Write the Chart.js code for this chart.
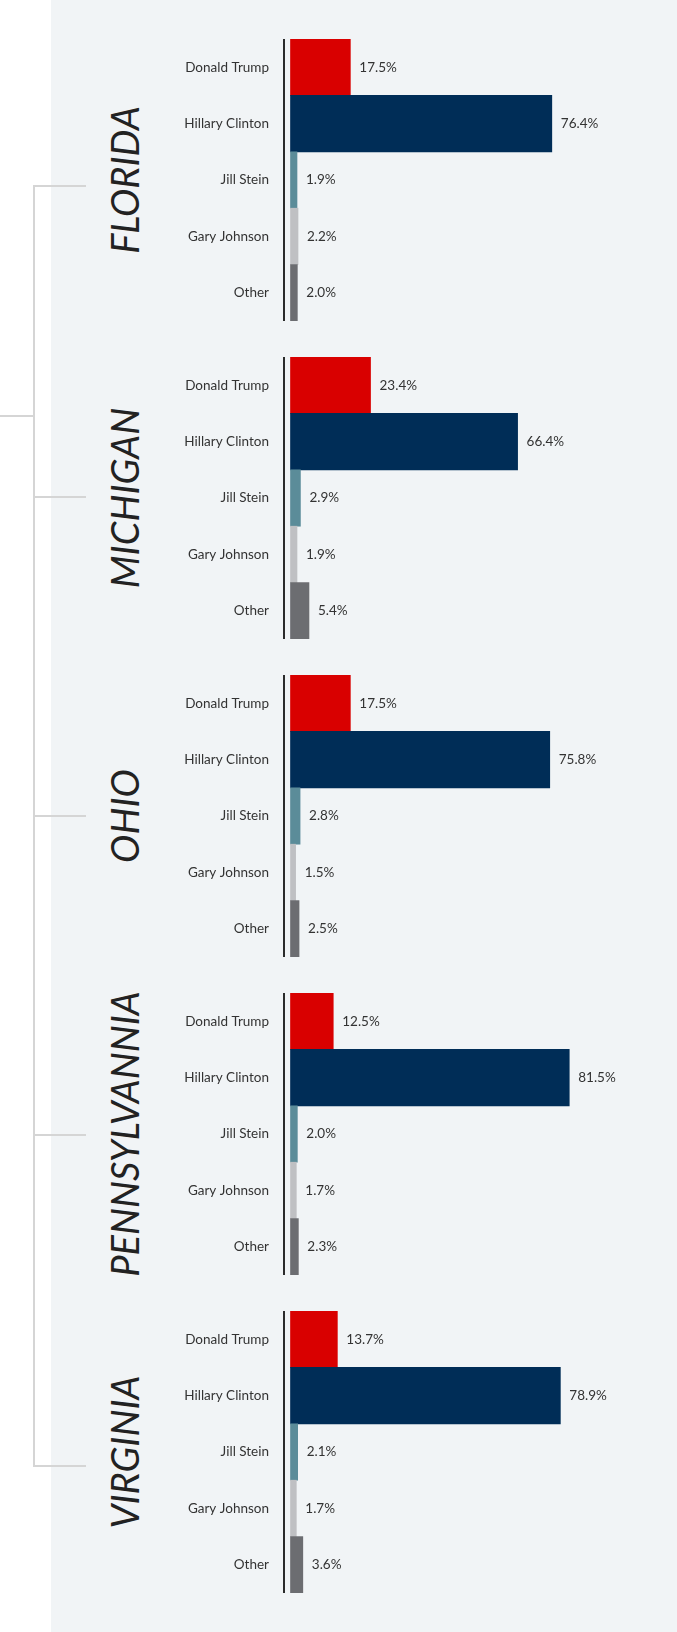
<!DOCTYPE html>
<html lang="en">
<head>
<meta charset="UTF-8">
<meta name="viewport" content="width=device-width, initial-scale=1.0">
<title>Vote share by state</title>
<style>
    body {
        margin: 0;
        width: 677px;
        height: 1632px;
        position: relative;
        overflow: hidden;
        background: #fff;
        font-family: Lato, sans-serif;
    }

    .panel {
        position: absolute;
        left: 51px;
        top: 0;
        width: 626px;
        height: 1632px;
        background: #f1f4f6;
    }

    .state-chart {
        position: absolute;
        left: 150px;
        width: 527px;
        height: 282px;
    }

    .state-name {
        position: absolute;
        left: 124px;
        font-size: 38px;
        font-style: italic;
        font-weight: 400;
        color: #222;
        white-space: nowrap;
        transform: translate(-50%, -50%) rotate(-90deg);
    }

    .bracket {
        position: absolute;
        background: #d5d5d5;
    }
</style>
</head>
<body>
    <div class="panel"></div>

    <!-- grey bracket tying the states together -->
    <div class="bracket" style="left:33px; top:185px; width:2px; height:1282px;"></div>
    <div class="bracket" style="left:0; top:415px; width:34px; height:2px;"></div>
    <div class="bracket" style="left:33px; top:185px; width:53px; height:2px;"></div>
    <div class="bracket" style="left:33px; top:496px; width:53px; height:2px;"></div>
    <div class="bracket" style="left:33px; top:815px; width:53px; height:2px;"></div>
    <div class="bracket" style="left:33px; top:1134px; width:53px; height:2px;"></div>
    <div class="bracket" style="left:33px; top:1465px; width:53px; height:2px;"></div>

    <div id="charts"></div>

    <script src="https://cdn.jsdelivr.net/npm/chart.js"></script>
    <script>
        const candidates = ['Donald Trump', 'Hillary Clinton', 'Jill Stein', 'Gary Johnson', 'Other'];
        const states = ['FLORIDA', 'MICHIGAN', 'OHIO', 'PENNSYLVANNIA', 'VIRGINIA'];

        // percent share per candidate, same order as candidates
        const florida = [17.5, 76.4, 1.9, 2.2, 2.0];
        const michigan = [23.4, 66.4, 2.9, 1.9, 5.4];
        const ohio = [17.5, 75.8, 2.8, 1.5, 2.5];
        const pennsylvania = [12.5, 81.5, 2.0, 1.7, 2.3];
        const virginia = [13.7, 78.9, 2.1, 1.7, 3.6];

        const stateValues = [florida, michigan, ohio, pennsylvania, virginia];
        const barColors = ['#d90000', '#002d57', '#5b8c99', '#bfc0c3', '#6c6d71'];

        // prints "xx.x%" just past the end of each bar
        const valueLabels = {
            id: 'valueLabels',
            afterDatasetsDraw(chart) {
                const ctx = chart.ctx;
                const values = chart.data.datasets[0].data;
                ctx.save();
                ctx.font = '13.5px Lato';
                ctx.fillStyle = '#333';
                ctx.textAlign = 'left';
                ctx.textBaseline = 'middle';
                chart.getDatasetMeta(0).data.forEach((bar, i) => {
                    ctx.fillText(values[i].toFixed(1) + '%', bar.x + 9, bar.y);
                });
                ctx.restore();
            }
        };

        const holder = document.getElementById('charts');
        const blockTop = 39;
        const blockStep = 318;

        states.forEach((name, s) => {
            const top = blockTop + s * blockStep;

            const title = document.createElement('div');
            title.className = 'state-name';
            title.style.top = (top + 141) + 'px';
            title.textContent = name;
            holder.appendChild(title);

            const box = document.createElement('div');
            box.className = 'state-chart';
            box.style.top = top + 'px';
            const canvas = document.createElement('canvas');
            box.appendChild(canvas);
            holder.appendChild(box);

            new Chart(canvas, {
                type: 'bar',
                data: {
                    labels: candidates,
                    datasets: [{
                        data: stateValues[s],
                        backgroundColor: barColors,
                        borderWidth: 0,
                        barPercentage: 1,
                        categoryPercentage: 1
                    }]
                },
                options: {
                    indexAxis: 'y',
                    responsive: true,
                    maintainAspectRatio: false,
                    animation: false,
                    layout: { padding: 0 },
                    plugins: {
                        legend: { display: false },
                        tooltip: { enabled: false }
                    },
                    scales: {
                        x: {
                            display: false,
                            min: -1.9,
                            max: 113
                        },
                        y: {
                            grid: { display: false, drawTicks: false },
                            border: { display: true, color: '#2b2b2b', width: 2 },
                            ticks: {
                                color: '#333',
                                padding: 15,
                                font: { family: 'Lato', size: 13.5 }
                            },
                            afterFit(scale) {
                                // fixed gutter for the names, bars use the full box height
                                scale.width = 134;
                                scale.paddingTop = 0;
                                scale.paddingBottom = 0;
                            }
                        }
                    }
                },
                plugins: [valueLabels]
            });
        });
    </script>
</body>
</html>
